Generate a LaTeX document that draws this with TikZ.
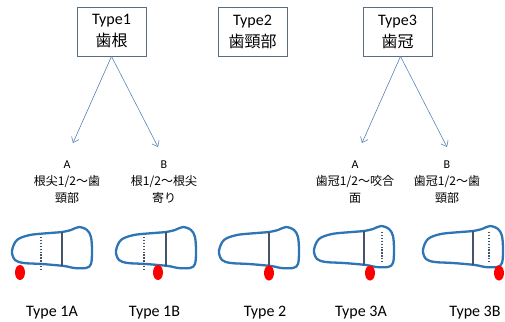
\documentclass[tikz,border=0pt]{standalone}
\usepackage{fontspec}
\setmainfont{Carlito}
\newfontfamily\jp{Noto Sans CJK JP}
\usetikzlibrary{calc,arrows.meta,positioning}

\definecolor{toothblue}{HTML}{2E75B6}
\definecolor{cejgray}{HTML}{44546A}
\definecolor{arrowblue}{HTML}{5A84B8}
\definecolor{boxline}{HTML}{5B6B80}

\tikzset{
  typebox/.style={draw=boxline, line width=0.8pt, minimum width=69pt, minimum height=49pt,
    align=center, inner sep=0pt, font=\fontsize{16}{22}\selectfont},
  sublabel/.style={align=center, font=\fontsize{12}{17}\selectfont},
  toothlabel/.style={font=\fontsize{16}{19}\selectfont},
  pointer/.style={-{Straight Barb[length=5pt,width=8pt]}, draw=arrowblue, line width=0.6pt},
  lesion/.style={fill=red, draw=none},
  dotline/.style={cejgray, line width=1.3pt, dash pattern=on 1.3pt off 1.6pt},
  tooth/.pic={
    \draw[toothblue, line width=2.3pt, line join=round]
      plot[smooth cycle, tension=0.55] coordinates {(-50,-14) (-45,-25) (-32,-30) (-12,-32) (0,-33)
        (9,-35) (17,-38) (25,-35) (29,-28) (30,-14) (29,-1) (24,3) (12,3) (2,1)
        (-20,-1) (-38,-2) (-47,-5)};
    \draw[cejgray, line width=1.2pt] (0,1) -- (0,-33);
  }
}

\begin{document}
\begin{tikzpicture}[x=1pt, y=-1pt]
    \useasboundingbox (0,0) rectangle (505,321);

    % type boxes
    \node[typebox] (t1) at (111.5,31.5) {Type1\\{\jp 歯根}};
    \node[typebox] (t2) at (252.5,31.5) {Type2\\{\jp 歯頸部}};
    \node[typebox] (t3) at (397.5,31.5) {Type3\\{\jp 歯冠}};

    % sub types
    \node[sublabel] (a1) at (67,182) {A\\{\jp 根尖1/2～歯}\\{\jp 頸部}};
    \node[sublabel] (b1) at (164,182) {B\\{\jp 根1/2～根尖}\\{\jp 寄り}};
    \node[sublabel] (a3) at (355,182) {A\\{\jp 歯冠1/2～咬合}\\{\jp 面}};
    \node[sublabel] (b3) at (447,182) {B\\{\jp 歯冠1/2～歯}\\{\jp 頸部}};

    \coordinate (a1tip) at (73,143);
    \coordinate (b1tip) at (158,147);
    \coordinate (a3tip) at (362,143);
    \coordinate (b3tip) at (447,147);
    \draw[pointer] (t1.south) -- (a1tip);
    \draw[pointer] (t1.south) -- (b1tip);
    \draw[pointer] ([xshift=3pt]t3.south) -- (a3tip);
    \draw[pointer] ([xshift=3pt]t3.south) -- (b3tip);

    % teeth
    \pic at (62,265) {tooth};
    \draw[dotline] (41,237) -- (41,270);
    \fill[lesion] (20,272.5) ellipse (5 and 7.5);

    \pic at (166,265) {tooth};
    \draw[dotline] (144,237) -- (144,270);
    \fill[lesion] (158,272.5) ellipse (5 and 7.5);

    \pic at (269,265) {tooth};
    \fill[lesion] (269,273) ellipse (5 and 7.5);

    \pic at (364,264) {tooth};
    \draw[dotline] (382,232) -- (382,263);
    \fill[lesion] (370,273) ellipse (5 and 7.5);

    \pic at (473,264) {tooth};
    \draw[dotline] (489,232) -- (489,263);
    \fill[lesion] (499,273) ellipse (5 and 7.5);

    % names
    \node[toothlabel] (n1a) at (52,313) {Type 1A};
    \node[toothlabel] (n1b) at (154.5,313) {Type 1B};
    \node[toothlabel] (n2) at (265,313) {Type 2};
    \node[toothlabel] (n3a) at (361,313) {Type 3A};
    \node[toothlabel] (n3b) at (475,313) {Type 3B};
\end{tikzpicture}
\end{document}
